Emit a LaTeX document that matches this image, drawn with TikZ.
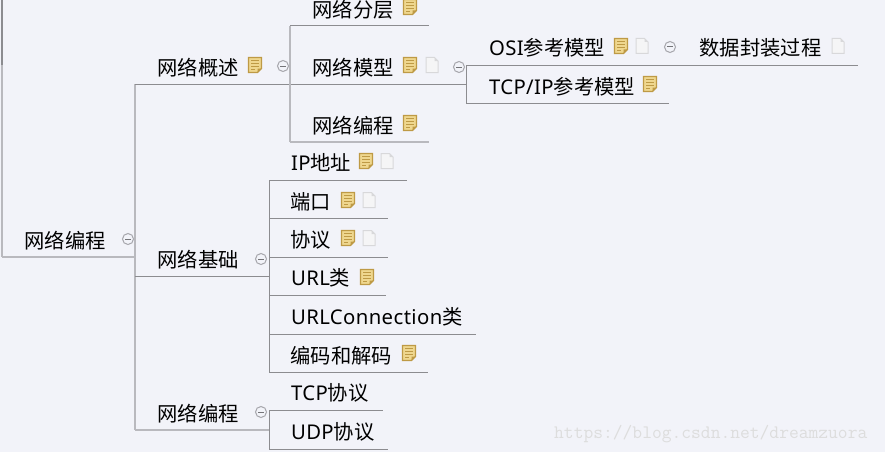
\documentclass[tikz,border=0pt]{standalone}
\usepackage{fontspec}
\setmainfont{Noto Sans CJK SC}
\newfontfamily\latfont[LetterSpace=2]{Noto Sans}
\newcommand{\lat}[1]{{\latfont #1}}
\begin{document}
\begin{tikzpicture}[x=1pt,y=-1pt,
  topic/.style={anchor=base west,inner sep=0pt,outer sep=0pt,font=\fontsize{20.3}{24}\selectfont,text=black},
  darkline/.style={draw=linedark,line width=1pt},
  lightline/.style={draw=linelight,line width=1.3pt},
  mark note/.pic={
    \fill[notefill,draw=noteedge,line width=1.1pt] (-6.5,-7.5) -- (6.5,-7.5) -- (6.5,3.5) -- (2.5,7.5) -- (-6.5,7.5) -- cycle;
    \draw[noteedge,line width=1pt] (-4,-4.5) -- (4,-4.5) (-4,-1.5) -- (4,-1.5) (-4,1.5) -- (4,1.5) (-4,4.5) -- (0,4.5);
    \fill[noteedge] (2.5,7.5) -- (2.5,3.5) -- (6.5,3.5) -- cycle;
  },
  mark page/.pic={
    \fill[pagefill,draw=pageedge,line width=1pt] (-6,-7.5) -- (2.5,-7.5) -- (6,-4) -- (6,7.5) -- (-6,7.5) -- cycle;
    \fill[pageedge] (2.5,-7.5) -- (6,-4) -- (2.5,-4) -- cycle;
  },
  mark minus/.pic={
    \draw[draw=circleedge,fill=bgcol,line width=1pt] (0,0) circle (5.5);
    \draw[draw=circleedge!70!black,line width=1pt] (-3,0) -- (3,0);
  }]
\definecolor{bgcol}{HTML}{F2F3F9}
\definecolor{linedark}{HTML}{8C8C90}
\definecolor{linelight}{HTML}{B9B9BE}
\definecolor{notefill}{HTML}{EFD78F}
\definecolor{noteedge}{HTML}{BE9A45}
\definecolor{pagefill}{HTML}{F5F5F6}
\definecolor{pageedge}{HTML}{D8D8DA}
\definecolor{circleedge}{HTML}{A6A6AC}
\definecolor{wmark}{HTML}{DDDDDD}
\useasboundingbox (0,0) rectangle (885,452);
\fill[bgcol] (0,0) rectangle (885,452);

% connection points
\coordinate (rtop) at (2,0);
\coordinate (rmid) at (2,65);
\coordinate (rb) at (2,257);
\coordinate (r) at (135,257);
\coordinate (a1) at (135,84);
\coordinate (a2) at (135,276);
\coordinate (a3) at (135,430);
\coordinate (b) at (290,84);
\coordinate (b1) at (290,26);
\coordinate (b1e) at (429,26);
\coordinate (b3) at (290,142);
\coordinate (b3e) at (429,142);
\coordinate (m) at (466,84);
\coordinate (m1) at (466,65);
\coordinate (m1e) at (858,65);
\coordinate (m2) at (466,103);
\coordinate (m2e) at (669,103);
\coordinate (c) at (269,276);
\coordinate (c1) at (269,180);
\coordinate (c1e) at (407,180);
\coordinate (c2) at (269,218);
\coordinate (c2e) at (388,218);
\coordinate (c3) at (269,257);
\coordinate (c3e) at (388,257);
\coordinate (c4) at (269,295);
\coordinate (c4e) at (386,295);
\coordinate (c5) at (269,334);
\coordinate (c5e) at (476,334);
\coordinate (c6) at (269,372);
\coordinate (c6e) at (428,372);
\coordinate (d) at (269,430);
\coordinate (d1) at (269,410);
\coordinate (d1e) at (383,410);
\coordinate (d2) at (269,449);
\coordinate (d2e) at (388,449);

% connectors
\draw[darkline,line width=1.4pt] (rtop) -- (rmid);
\draw[lightline] (rmid) -- (rb);
\draw[lightline] (rb) -- (r);
\draw[lightline] (a1) -- (a3);
\draw[darkline] (a1) -- (m);
\draw[darkline] (a2) -- (c);
\draw[lightline] (a3) -- (d);
\draw[lightline] (b1) -- (b3);
\draw[darkline] (b1) -- (b1e);
\draw[lightline] (b3) -- (b3e);
\draw[darkline] (m1) -- (m2);
\draw[darkline] (m1) -- (m1e);
\draw[darkline] (m2) -- (m2e);
\draw[darkline] (c1) -- (c6);
\draw[darkline] (c1) -- (c1e);
\draw[darkline] (c2) -- (c2e);
\draw[darkline] (c3) -- (c3e);
\draw[darkline] (c4) -- (c4e);
\draw[darkline] (c5) -- (c5e);
\draw[darkline] (c6) -- (c6e);
\draw[darkline] (d1) -- (d2);
\draw[darkline] (d1) -- (d1e);
\draw[darkline] (d2) -- (d2e);

% topics
\node[topic] (n0) at (24.5,248) {网络编程};
\node[topic] (n1) at (157.5,75) {网络概述};
\node[topic] (n2) at (157.5,267) {网络基础};
\node[topic] (n3) at (157.5,421) {网络编程};
\node[topic] (n11) at (312.5,18) {网络分层};
\node[topic] (n12) at (312.5,75) {网络模型};
\node[topic] (n13) at (312.5,133) {网络编程};
\node[topic] (n121) at (489,56) {\lat{OSI}参考模型};
\node[topic] (n1211) at (699.5,56) {数据封装过程};
\node[topic] (n122) at (489,94) {\lat{TCP/IP}参考模型};
\node[topic] (n21) at (291,170) {\lat{IP}地址};
\node[topic] (n22) at (290.5,209) {端口};
\node[topic] (n23) at (290.5,247) {协议};
\node[topic] (n24) at (291,285) {\lat{URL}类};
\node[topic] (n25) at (291,324) {\lat{URLConnection}类};
\node[topic] (n26) at (290.5,363) {编码和解码};
\node[topic] (n31) at (291,400) {\lat{TCP}协议};
\node[topic] (n32) at (291,439) {\lat{UDP}协议};

% notes
\foreach \p in {(255,65),(410,7),(410,65),(410,123),(621,46),(650,84),(366,161),(348,200),(348,238),(367,277),(409,353)}
  \pic at \p {mark note};
% page icons
\foreach \p in {(432,65),(642,46),(838,46),(387,161),(369,200),(369,238)}
  \pic at \p {mark page};
% collapse marks
\foreach \p in {(128,239),(283,66),(459,67),(670,47),(261,259),(261,412)}
  \pic at \p {mark minus};

\node[anchor=base west,inner sep=0pt,text=wmark,font=\fontsize{19}{20}\ttfamily] (wm) at (554,438) {https://blog.csdn.net/dreamzuora};
\end{tikzpicture}
\end{document}
